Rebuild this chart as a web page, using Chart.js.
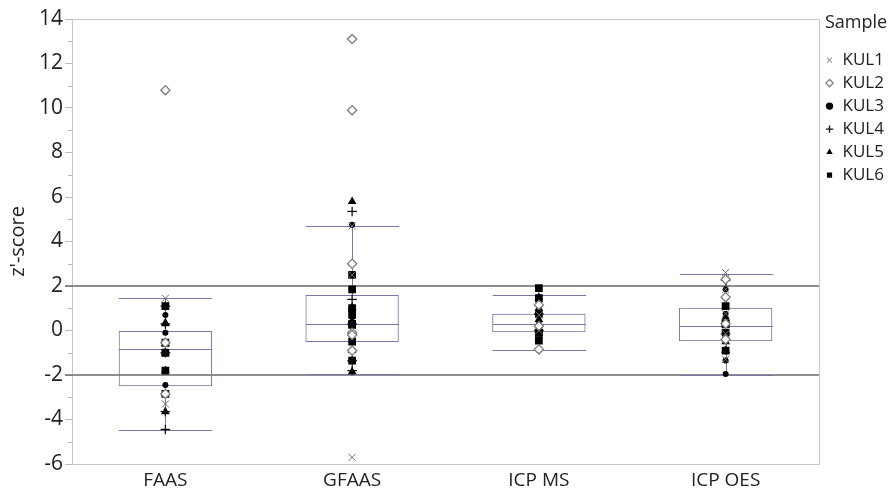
<!DOCTYPE html>
<html>
<head>
<meta charset="utf-8">
<script src="https://cdn.jsdelivr.net/npm/chart.js@4.4.1/dist/chart.umd.min.js"></script>
<style>
  html, body { margin: 0; padding: 0; background: #ffffff; }
  #wrap { width: 893px; height: 492px; }
</style>
</head>
<body>
<div id="wrap"><canvas id="c" width="893" height="492"></canvas></div>
<script>
// ---- data ----
const categories = ['FAAS', 'GFAAS', 'ICP MS', 'ICP OES'];
const sampleNames = ['KUL1', 'KUL2', 'KUL3', 'KUL4', 'KUL5', 'KUL6'];

// box plot statistics per category
const boxLow    = [-4.45, -1.95, -0.88, -1.98];
const boxQ1     = [-2.50, -0.52, -0.08, -0.48];
const boxMedian = [-0.82,  0.30,  0.28,  0.22];
const boxQ3     = [ 0.00,  1.60,  0.75,  1.02];
const boxHigh   = [ 1.45,  4.70,  1.60,  2.55];

const referenceLines = [2, -2];
const yMin = -6, yMax = 14, yStep = 2;

// z'-scores per sample, one list per category (FAAS, GFAAS, ICP MS, ICP OES)
const kul1 = [[1.45, -3.3], [4.7, 2.5, -5.7], [0.7, 0.0], [2.6, 1.85, 0.75, -0.15, -1.3]];
const kul2 = [[10.8, -0.55, -2.85], [13.1, 9.9, 3.0, -0.1, -0.2, -0.9], [1.15, 0.2, -0.85], [2.3, 1.5, 0.3, -0.4]];
const kul3 = [[0.7, -0.1, -2.45], [4.75, 0.7, 0.6], [0.8, 0.3, -0.1], [1.85, 0.75, 0.3, -1.35, -1.95]];
const kul4 = [[1.1, 0.3, -1.0, -3.65, -4.45], [5.35, 1.4, 0.3, -0.1, -1.35, -1.8], [0.75, 0.0], [2.25, -0.15]];
const kul5 = [[0.35, 0.3, -0.6, -1.0, -1.8, -3.65], [5.8, 1.05, 1.0, -0.1, -0.9, -1.85], [1.5, 1.0, 0.5, 0.3, -0.05], [0.6, -0.5, -0.9]];
const kul6 = [[1.1, -0.55, -1.0, -1.8, -2.85], [2.5, 1.85, 1.0, 0.7, 0.3, 0.25, -0.5, -1.35], [1.9, 1.45, 0.75, -0.1, -0.1, -0.45], [1.1, 0.3, 0.3, -0.1, -0.9]];

const sampleValues = [kul1, kul2, kul3, kul4, kul5, kul6];

// ---- styles ----
const FONT = "'Open Sans', 'Noto Sans', sans-serif";
const BOX_COLOR = '#7a76a6';
const sampleStyles = [
  { pointStyle: 'crossRot', radius: 5,   border: '#6e6e6e', fill: '#6e6e6e', bw: 1 },
  { pointStyle: 'rectRot',  radius: 4.6, border: '#7c7c7c', fill: '#ffffff', bw: 1.3 },
  { pointStyle: 'circle',   radius: 3,   border: '#000000', fill: '#000000', bw: 0 },
  { pointStyle: 'cross',    radius: 4.8, border: '#111111', fill: '#111111', bw: 1.3 },
  { pointStyle: 'triangle', radius: 5,   border: '#000000', fill: '#000000', bw: 0 },
  { pointStyle: 'rect',     radius: 5.5, border: '#000000', fill: '#000000', bw: 0 }
];

function toPoints(lists) {
  const pts = [];
  lists.forEach((vals, i) => vals.forEach(v => pts.push({ x: categories[i], y: v })));
  return pts;
}

const datasets = [{
  type: 'bar',
  label: '__box',
  data: boxQ1.map((q, i) => [q, boxQ3[i]]),
  backgroundColor: 'rgba(0,0,0,0)',
  borderColor: BOX_COLOR,
  borderWidth: 1,
  borderSkipped: false,
  barPercentage: 1,
  categoryPercentage: 0.5,
  order: 10
}];

sampleNames.forEach((name, k) => {
  const s = sampleStyles[k];
  datasets.push({
    type: 'line',
    label: name,
    data: toPoints(sampleValues[k]),
    showLine: false,
    pointStyle: s.pointStyle,
    pointRadius: s.radius,
    pointHoverRadius: s.radius,
    pointBorderWidth: s.bw,
    borderWidth: s.bw,
    borderColor: s.border,
    backgroundColor: s.fill,
    pointBorderColor: s.border,
    pointBackgroundColor: s.fill,
    order: 1
  });
});

const extras = {
  id: 'extras',
  beforeDatasetsDraw(chart) {
    const { ctx, chartArea: a, scales } = chart;
    const ys = scales.y, xs = scales.x;
    ctx.save();
    // frame top and right
    ctx.strokeStyle = '#c8c8c8';
    ctx.lineWidth = 1;
    ctx.beginPath();
    ctx.moveTo(a.left, Math.round(a.top) + 0.5);
    ctx.lineTo(Math.round(a.right) + 0.5, Math.round(a.top) + 0.5);
    ctx.lineTo(Math.round(a.right) + 0.5, a.bottom);
    ctx.stroke();
    // minor ticks
    ctx.strokeStyle = '#bbbbbb';
    for (let v = yMin + yStep / 2; v < yMax; v += yStep) {
      const y = Math.round(ys.getPixelForValue(v)) + 0.5;
      ctx.beginPath();
      ctx.moveTo(a.left - 4, y);
      ctx.lineTo(a.left, y);
      ctx.stroke();
    }
    // reference lines
    ctx.strokeStyle = '#6a6a6a';
    ctx.lineWidth = 1.6;
    referenceLines.forEach(v => {
      const y = Math.round(ys.getPixelForValue(v));
      ctx.beginPath();
      ctx.moveTo(a.left - 7, y);
      ctx.lineTo(a.right, y);
      ctx.stroke();
    });
    // whiskers and medians
    const meta = chart.getDatasetMeta(0);
    ctx.strokeStyle = BOX_COLOR;
    ctx.lineWidth = 1;
    categories.forEach((c, i) => {
      const cx = Math.round(xs.getPixelForValue(i)) + 0.5;
      const half = meta.data[i].width / 2;
      const yl = Math.round(ys.getPixelForValue(boxLow[i])) + 0.5;
      const yh = Math.round(ys.getPixelForValue(boxHigh[i])) + 0.5;
      const y1 = ys.getPixelForValue(boxQ1[i]);
      const y3 = ys.getPixelForValue(boxQ3[i]);
      const ym = Math.round(ys.getPixelForValue(boxMedian[i])) + 0.5;
      ctx.beginPath();
      ctx.moveTo(cx, yh); ctx.lineTo(cx, y3);
      ctx.moveTo(cx, y1); ctx.lineTo(cx, yl);
      ctx.moveTo(cx - half, yh); ctx.lineTo(cx + half, yh);
      ctx.moveTo(cx - half, yl); ctx.lineTo(cx + half, yl);
      ctx.moveTo(cx - half, ym); ctx.lineTo(cx + half, ym);
      ctx.stroke();
    });
    ctx.restore();
  }
};

new Chart(document.getElementById('c'), {
  type: 'bar',
  data: { labels: categories, datasets },
  plugins: [extras],
  options: {
    responsive: false,
    devicePixelRatio: 1,
    animation: false,
    layout: { padding: { top: 14, right: 0, left: 0, bottom: 0 } },
    plugins: {
      tooltip: { enabled: false },
      legend: {
        position: 'right',
        align: 'start',
        maxWidth: 74,
        title: {
          display: true,
          text: 'Sample',
          position: 'center',
          color: '#222',
          font: { family: FONT, size: 18 },
          padding: { top: 0, bottom: 10 }
        },
        labels: {
          usePointStyle: true,
          boxWidth: 9,
          boxHeight: 5.2,
          padding: 6,
          color: '#222',
          font: { family: FONT, size: 17 },
          filter: item => item.text !== '__box'
        }
      }
    },
    scales: {
      x: {
        type: 'category',
        grid: { display: false, drawTicks: false },
        border: { color: '#c8c8c8' },
        ticks: { color: '#222', font: { family: FONT, size: 19 }, padding: 5 },
        afterFit: s => { s.height = 28; }
      },
      xTop: {
        type: 'category',
        position: 'top',
        grid: { display: false, drawTicks: false },
        border: { display: false },
        ticks: { display: false },
        afterFit: s => { s.height = 5; }
      },
      y: {
        min: yMin,
        max: yMax,
        grid: { drawOnChartArea: false, drawTicks: true, tickLength: 7, tickColor: '#bbbbbb' },
        border: { color: '#c8c8c8' },
        ticks: { stepSize: yStep, color: '#222', font: { family: FONT, size: 21 }, padding: 2 },
        title: { display: true, text: "z'-score", color: '#222', font: { family: FONT, size: 20 }, padding: { top: 6, bottom: 0 } },
        afterFit: s => { s.width = 72; }
      }
    }
  }
});
</script>
</body>
</html>
